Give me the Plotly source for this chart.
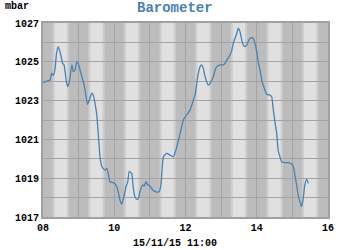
import plotly.graph_objects as go

hours = [8.00, 8.10, 8.20, 8.24, 8.29, 8.34, 8.38, 8.43, 8.50, 8.55, 8.59, 8.65, 8.69, 8.74,
         8.81, 8.85, 8.90, 8.95, 8.99, 9.04, 9.09, 9.13, 9.18, 9.25, 9.30, 9.37, 9.41, 9.46,
         9.51, 9.55, 9.60, 9.65, 9.74, 9.79, 9.83, 9.88, 9.97, 10.05, 10.11, 10.16, 10.21,
         10.25, 10.33, 10.38, 10.42, 10.49, 10.53, 10.58, 10.63, 10.68, 10.72, 10.80, 10.84,
         10.89, 10.94, 11.00, 11.08, 11.17, 11.26, 11.31, 11.38, 11.47, 11.56, 11.66, 11.73,
         11.85, 11.94, 12.03, 12.13, 12.22, 12.27, 12.31, 12.36, 12.41, 12.45, 12.50, 12.55,
         12.64, 12.69, 12.74, 12.78, 12.83, 12.88, 12.97, 13.06, 13.11, 13.16, 13.25, 13.30,
         13.34, 13.39, 13.44, 13.48, 13.53, 13.58, 13.62, 13.67, 13.72, 13.76, 13.81, 13.86,
         13.90, 13.95, 14.00, 14.04, 14.09, 14.14, 14.18, 14.23, 14.28, 14.37, 14.42, 14.46,
         14.51, 14.56, 14.60, 14.65, 14.70, 14.79, 14.89, 14.93, 14.98, 15.03, 15.07, 15.12,
         15.17, 15.21, 15.26, 15.31, 15.35, 15.40, 15.45]
pressure = [1023.92, 1024.00, 1024.06, 1024.40, 1024.30, 1024.66, 1025.44, 1025.78, 1025.35,
            1024.92, 1024.84, 1024.06, 1023.72, 1023.97, 1024.84, 1024.49, 1024.58, 1025.00,
            1024.92, 1024.58, 1024.23, 1023.97, 1023.55, 1022.81, 1023.03, 1023.38, 1023.29,
            1022.86, 1022.26, 1021.31, 1020.10, 1019.60, 1019.42, 1019.50, 1019.25, 1018.82,
            1018.77, 1018.65, 1018.31, 1017.88, 1017.67, 1017.88, 1018.56, 1018.82, 1019.34,
            1019.25, 1018.56, 1018.05, 1017.91, 1017.96, 1018.30, 1018.65, 1018.60, 1018.82,
            1018.65, 1018.60, 1018.39, 1018.30, 1018.30, 1018.65, 1020.10, 1020.28, 1020.20,
            1020.10, 1020.45, 1021.31, 1022.00, 1022.26, 1022.52, 1023.03, 1023.29, 1023.80,
            1024.40, 1024.75, 1024.84, 1024.66, 1024.23, 1023.80, 1023.89, 1024.06, 1024.23,
            1024.58, 1024.75, 1024.84, 1024.84, 1024.92, 1025.09, 1025.35, 1025.60, 1025.95,
            1026.21, 1026.47, 1026.73, 1026.55, 1026.12, 1025.87, 1025.78, 1025.87, 1026.04,
            1026.21, 1026.24, 1026.21, 1025.95, 1025.52, 1025.00, 1024.58, 1024.06, 1023.80,
            1023.55, 1023.32, 1023.29, 1023.20, 1022.60, 1021.91, 1021.31, 1020.45, 1020.11,
            1019.85, 1019.80, 1019.80, 1019.77, 1019.73, 1019.59, 1019.16, 1018.65, 1018.05,
            1017.79, 1017.53, 1018.05, 1018.65, 1018.94, 1018.74]

x_tick_vals = [8, 10, 12, 14, 16]
x_tick_text = ["08", "10", "12", "14", "16"]
y_tick_vals = [1017, 1019, 1021, 1023, 1025, 1027]
band_hours = [8, 9, 10, 11, 12, 13, 14, 15, 16]

title_text = "Barometer"
unit_text = "mbar"
date_text = "15/11/15 11:00"

MONO = "Liberation Mono, Courier New, monospace"
LINE = "#4682b4"

fig = go.Figure()
fig.add_trace(go.Scatter(x=hours, y=pressure, mode="lines",
                         line=dict(color=LINE, width=1.3, shape="spline", smoothing=0.5),
                         hoverinfo="skip", showlegend=False))

shapes = []
for h in band_hours:
    shapes.append(dict(type="rect", xref="x", yref="y", layer="below",
                       x0=max(8, h - 0.33), x1=min(16, h + 0.33), y0=1017, y1=1027,
                       fillcolor="#cdcdcd", line=dict(width=0)))
    shapes.append(dict(type="rect", xref="x", yref="y", layer="below",
                       x0=max(8, h - 0.27), x1=min(16, h + 0.27), y0=1017, y1=1027,
                       fillcolor="#bcbcbc", line=dict(width=0)))

fig.update_layout(
    width=350, height=250,
    margin=dict(l=43, r=22, t=23, b=33),
    paper_bgcolor="white", plot_bgcolor="#e0e0e0",
    shapes=shapes,
    font=dict(family=MONO, size=10, color="black"),
    xaxis=dict(range=[8, 16], tickvals=x_tick_vals, ticktext=x_tick_text,
               showgrid=True, gridcolor="#a4a4a4", gridwidth=1,
               minor=dict(dtick=1, tick0=8, showgrid=True, gridcolor="#a4a4a4", gridwidth=1),
               showline=True, mirror=True, linecolor="#a0a0a0", linewidth=2,
               zeroline=False, ticks="", tickfont=dict(family=MONO, size=10, color="black", weight="bold"),
               fixedrange=True),
    yaxis=dict(range=[1017, 1027], tickvals=y_tick_vals,
               showgrid=True, gridcolor="#a4a4a4", gridwidth=1,
               minor=dict(dtick=1, tick0=1017, showgrid=True, gridcolor="#a4a4a4", gridwidth=1),
               showline=True, mirror=True, linecolor="#a0a0a0", linewidth=2,
               zeroline=False, ticks="", tickfont=dict(family=MONO, size=10, color="black", weight="bold"),
               fixedrange=True),
    annotations=[
        dict(text=title_text, xref="paper", yref="paper", x=(174.5 - 43) / 285, y=1 + (23 - 8) / 194,
             xanchor="center", yanchor="middle", showarrow=False,
             font=dict(family=MONO, size=14, color=LINE, weight="bold")),
        dict(text=unit_text, xref="paper", yref="paper", x=(3 - 43) / 285, y=1 + (23 - 6) / 194,
             xanchor="left", yanchor="middle", showarrow=False,
             font=dict(family=MONO, size=10, color="black", weight="bold")),
        dict(text=date_text, xref="paper", yref="paper", x=(175 - 43) / 285, y=-(243 - 217) / 194,
             xanchor="center", yanchor="middle", showarrow=False,
             font=dict(family=MONO, size=10, color="black", weight="bold")),
    ],
)

fig.write_html("out.html")
